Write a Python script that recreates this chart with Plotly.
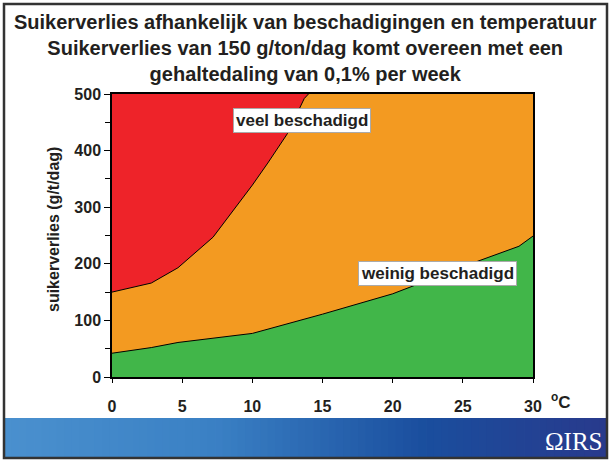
import plotly.graph_objects as go

# ---- data ----
temp_red = [0, 2.8, 4.7, 7.2, 10.0, 11.1, 12.5, 13.7, 14.0]
loss_red = [150, 166, 193, 247, 339, 378, 430, 492, 500]
temp_green = [0, 2.8, 4.7, 10.0, 15.0, 20.0, 26.0, 29.0, 30.0]
loss_green = [42, 52, 61, 77, 111, 147, 204, 231, 249]
x_ticks = [0, 5, 10, 15, 20, 25, 30]
y_ticks = [0, 100, 200, 300, 400, 500]
y_max = 500
x_max = 30

RED = "#EE2329"
ORANGE = "#F39A21"
GREEN = "#41B649"
TXT = "#231F20"
FONT = "Liberation Sans, Arial, sans-serif"

W, H = 610, 461
L, R, T, B = 112, 533, 94, 377  # plot area in pixels


def px(xp):
    return (xp - L) / (R - L)


def py(yp):
    return (B - yp) / (B - T)


fig = go.Figure()
# orange background band
fig.add_trace(go.Scatter(x=[0, x_max], y=[y_max, y_max], fill="tozeroy",
                         fillcolor=ORANGE, mode="none", hoverinfo="skip"))
# red region
fig.add_trace(go.Scatter(x=[0] + temp_red, y=[y_max] + loss_red, fill="toself",
                         fillcolor=RED, mode="none", hoverinfo="skip"))
fig.add_trace(go.Scatter(x=temp_red, y=loss_red, mode="lines",
                         line=dict(color="black", width=1)))
# green region
fig.add_trace(go.Scatter(x=temp_green, y=loss_green, fill="tozeroy",
                         fillcolor=GREEN, mode="lines",
                         line=dict(color="black", width=1)))

shapes = []
# gradient banner
stops = [(0.0, (74, 144, 206)), (0.35, (58, 128, 196)), (0.7, (26, 78, 158)), (1.0, (40, 58, 140))]


def col(t):
    for i in range(len(stops) - 1):
        a, ca = stops[i]
        b, cb = stops[i + 1]
        if a <= t <= b:
            f = (t - a) / (b - a)
            c = [round(ca[k] + (cb[k] - ca[k]) * f) for k in range(3)]
            return "rgb(%d,%d,%d)" % tuple(c)
    return "rgb(40,58,140)"


n = 80
x0b, x1b = 4, 607
for i in range(n):
    xa = x0b + (x1b - x0b) * i / n
    xb = x0b + (x1b - x0b) * (i + 1) / n + 0.8
    shapes.append(dict(type="rect", xref="paper", yref="paper",
                       x0=px(xa), x1=px(min(xb, x1b)), y0=py(458), y1=py(418),
                       fillcolor=col(i / (n - 1)), line=dict(width=0), layer="below"))
# outer frame
shapes.append(dict(type="rect", xref="paper", yref="paper",
                   x0=px(4), x1=px(607), y0=py(458), y1=py(4),
                   line=dict(color="#333333", width=2.5), fillcolor="rgba(0,0,0,0)"))

annotations = [
    dict(text="Suikerverlies afhankelijk van beschadigingen en temperatuur<br>"
              "Suikerverlies van 150 g/ton/dag komt overeen met een<br>"
              "gehaltedaling van 0,1% per week",
         xref="paper", yref="paper", x=px(305), y=py(48), xanchor="center", yanchor="middle",
         showarrow=False, font=dict(family=FONT, size=20, color=TXT, weight="bold")),
    dict(text="suikerverlies (g/t/dag)", textangle=-90,
         xref="paper", yref="paper", x=px(53), y=py(230), xanchor="center", yanchor="middle",
         showarrow=False, font=dict(family=FONT, size=16, color=TXT, weight="bold")),
    dict(text="<sup>o</sup>C", xref="paper", yref="paper", x=px(549), y=py(401),
         xanchor="left", yanchor="middle", showarrow=False,
         font=dict(family=FONT, size=17, color=TXT, weight="bold")),
    dict(text="veel beschadigd", x=13.55, y=453, xref="x", yref="y", showarrow=False,
         bgcolor="white", bordercolor="#AAAAAA", borderwidth=1, borderpad=2,
         font=dict(family=FONT, size=17, color=TXT, weight="bold")),
    dict(text="weinig beschadigd", x=23.2, y=182, xref="x", yref="y", showarrow=False,
         bgcolor="white", bordercolor="#AAAAAA", borderwidth=1, borderpad=2,
         font=dict(family=FONT, size=17, color=TXT, weight="bold")),
    dict(text="ΩIRS", xref="paper", yref="paper", x=px(604), y=py(441),
         xanchor="right", yanchor="middle", showarrow=False,
         font=dict(family="Liberation Serif, Times New Roman, serif", size=25, color="white")),
]

fig.update_layout(
    width=W, height=H,
    margin=dict(l=L, r=W - R, t=T, b=H - B),
    paper_bgcolor="white", plot_bgcolor="white",
    showlegend=False,
    shapes=shapes, annotations=annotations,
    xaxis=dict(range=[0, x_max], tickvals=x_ticks, ticks="outside", ticklen=4,
               tickcolor="black", showline=True, linecolor="black", linewidth=1.5,
               mirror=True, showgrid=False, zeroline=False, ticklabelstandoff=10,
               tickfont=dict(family=FONT, size=16, color=TXT, weight="bold")),
    yaxis=dict(range=[0, y_max], tickvals=y_ticks, ticks="outside", ticklen=6,
               tickcolor="black", showline=True, linecolor="black", linewidth=1.5,
               mirror=True, showgrid=False, zeroline=False,
               minor=dict(dtick=50, ticks="outside", ticklen=5, tickcolor="black"),
               tickfont=dict(family=FONT, size=16, color=TXT, weight="bold")),
)

fig.write_html("out.html", config={"displayModeBar": False},
               post_script="document.body.style.margin='0';")
